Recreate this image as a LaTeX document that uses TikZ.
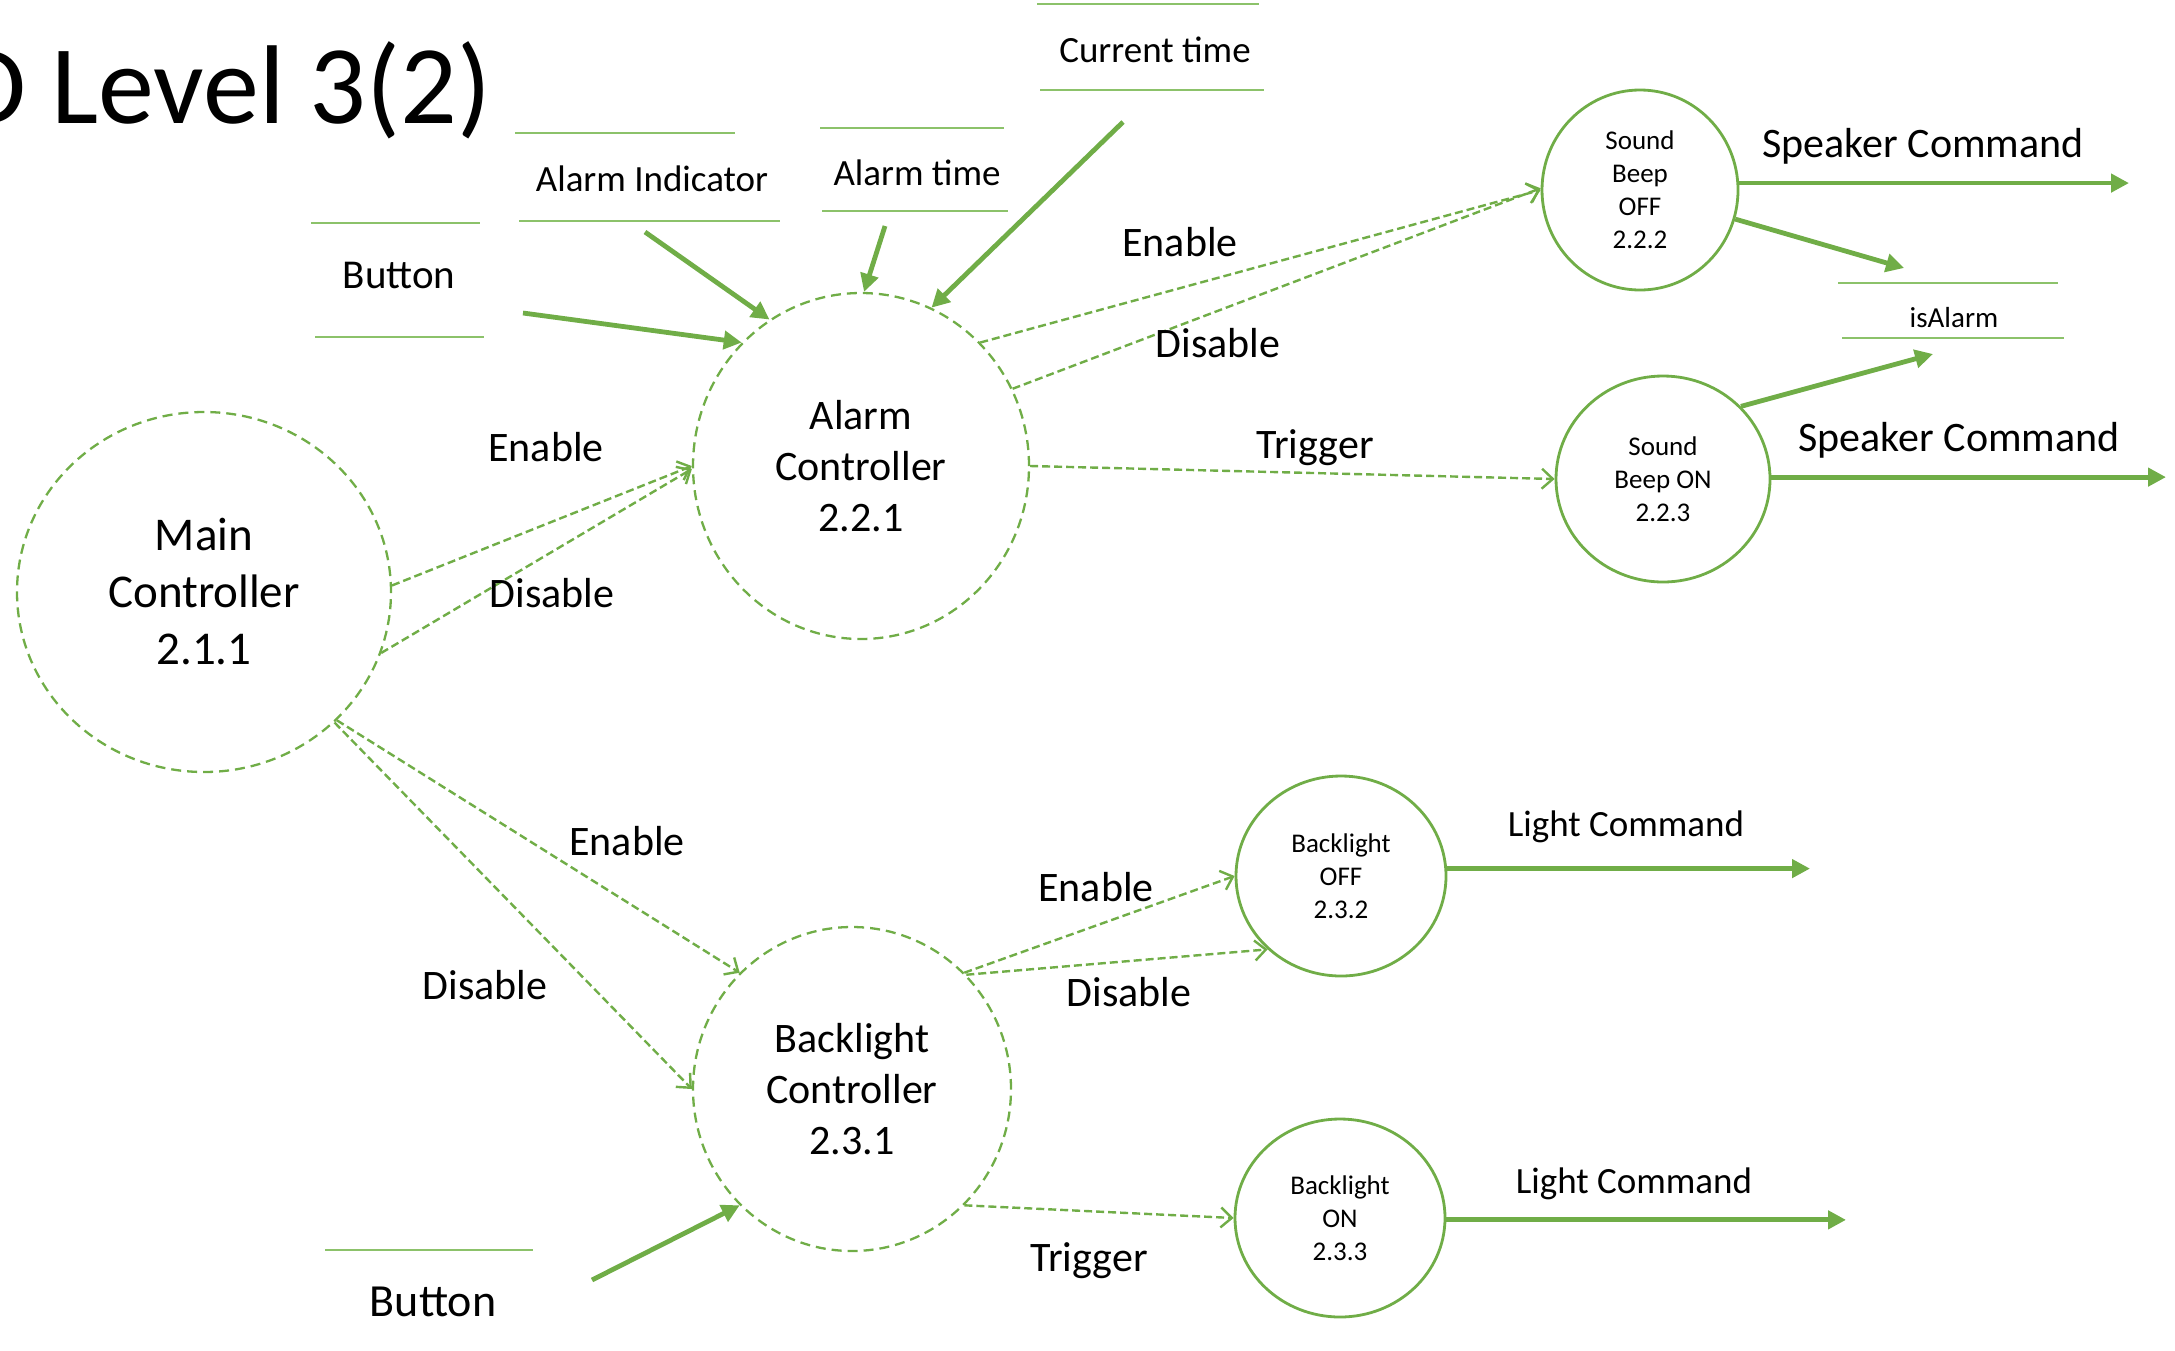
\documentclass[tikz,border=0pt]{standalone}
\usepackage{fontspec}
\setmainfont{Carlito}
\usetikzlibrary{shapes.geometric,arrows.meta}
\definecolor{gr}{HTML}{70AD47}
\definecolor{grl}{HTML}{8CC26A}
\newcommand{\fsz}[2]{\fontsize{#1}{#2}\selectfont}
\begin{document}
\begin{tikzpicture}[x=1pt,y=-1pt,
 proc/.style={ellipse, draw=gr, line width=2.8pt, inner sep=0pt, align=center, text=black},
 dproc/.style={ellipse, draw=gr, line width=2.3pt, dash pattern=on 10pt off 6pt, inner sep=0pt, align=center},
 flow/.style={draw=gr, line width=4.8pt, -{Triangle[length=18pt,width=18pt]}},
 ctrl/.style={draw=gr, line width=2.4pt, dash pattern=on 8pt off 4pt, -{Straight Barb[length=11pt,width=20pt]}},
 lbl/.style={font=\fsz{42}{50}, inner sep=0pt},
 store/.style={font=\fsz{37}{44}, inner sep=0pt},
 sline/.style={draw=grl, line width=2.2pt}
]
\useasboundingbox (0,0) rectangle (2175,1350);
\clip (0,0) rectangle (2175,1350);

% title
\node[anchor=base west, font=\fsz{112}{130}, inner sep=0pt] (title) at (-43,123) {D Level 3(2)};

% processes
\node[dproc, minimum width=374pt, minimum height=360pt, font=\fsz{47}{57}] (main) at (204,592) {Main\\Controller\\2.1.1};
\node[dproc, minimum width=336pt, minimum height=346pt, font=\fsz{42}{51}] (alarm) at (861,466) {Alarm\\Controller\\2.2.1};
\node[dproc, minimum width=318pt, minimum height=324pt, font=\fsz{42}{51}] (blc) at (852,1089) {Backlight\\Controller\\2.3.1};
\node[proc, minimum width=196pt, minimum height=200pt, font=\fsz{27}{33}] (soff) at (1640,190) {Sound\\Beep\\OFF\\2.2.2};
\node[proc, minimum width=214pt, minimum height=206pt, font=\fsz{27}{33}] (son) at (1663,479) {Sound\\Beep ON\\2.2.3};
\node[proc, minimum width=210pt, minimum height=200pt, font=\fsz{27}{33}] (boff) at (1341,876) {Backlight\\OFF\\2.3.2};
\node[proc, minimum width=210pt, minimum height=198pt, font=\fsz{27}{33}] (bon) at (1340,1218) {Backlight\\ON\\2.3.3};

% data stores
\node[store] (ct) at (1155,50) {Current time};
\draw[sline] (1037,4) -- (1259,4);
\draw[sline] (1040,90) -- (1264,90);
\node[store] (at) at (917,173) {Alarm time};
\draw[sline] (820,128) -- (1004,128);
\draw[sline] (822,211) -- (1008,211);
\node[store] (ai) at (652,179) {Alarm Indicator};
\draw[sline] (515,133) -- (735,133);
\draw[sline] (519,221) -- (780,221);
\node[store, font=\fsz{41}{48}] (btn1) at (399,275) {Button};
\draw[sline] (311,223) -- (480,223);
\draw[sline] (315,337) -- (484,337);
\node[store, font=\fsz{29}{35}] (isal) at (1954,318) {isAlarm};
\draw[sline] (1838,283) -- (2058,283);
\draw[sline] (1842,338) -- (2064,338);
\node[store, font=\fsz{46}{54}] (btn2) at (433,1302) {Button};
\draw[sline] (325,1250) -- (533,1250);

% free ends
\coordinate (btn1s) at (523,313);
\coordinate (ais) at (645,232);
\coordinate (ats) at (885,226);
\coordinate (cts) at (1123,122);
\coordinate (spk1) at (2129,183);
\coordinate (spk2) at (2166,477);
\coordinate (isa1) at (1904,268);
\coordinate (isa2) at (1933,354);
\coordinate (lc1) at (1810,868);
\coordinate (lc2) at (1846,1221);
\coordinate (btn2s) at (592,1280);

% solid flows
\draw[flow] (btn1s) -- (alarm.134);
\draw[flow] (ais) -- (alarm.122);
\draw[flow] (ats) -- (alarm.89);
\draw[flow] (cts) -- (alarm.66);
\draw[flow] (soff.4) -- (soff.4 -| spk1);
\draw[flow] (soff.-17) -- (isa1);
\draw[flow] (son.43) -- (isa2);
\draw[flow] (son.1) -- (son.1 -| spk2);
\draw[flow] (boff.4.5) -- (boff.4.5 -| lc1);
\draw[flow] (bon.-1) -- (bon.-1 -| lc2);
\draw[flow] (btn2s) -- (blc.226);

% control flows
\draw[ctrl] (main.2) -- (alarm.180);
\draw[ctrl] (main.-19) -- (alarm.181);
\draw[ctrl] (main.-44) -- (blc.134);
\draw[ctrl] (main.-45) -- (blc.180);
\draw[ctrl] (alarm.46) -- (soff.180);
\draw[ctrl] (alarm.27) -- (soff.179);
\draw[ctrl] (alarm.0) -- (son.180);
\draw[ctrl] (blc.46) -- (boff.180);
\draw[ctrl] (blc.45) -- (boff.225);
\draw[ctrl] (blc.-46) -- (bon.180);

% labels
\node[lbl] (l1) at (546,447) {Enable};
\node[lbl] (l2) at (552,593) {Disable};
\node[lbl] (l3) at (627,841) {Enable};
\node[lbl] (l4) at (485,985) {Disable};
\node[lbl] (l5) at (1180,242) {Enable};
\node[lbl] (l6) at (1218,343) {Disable};
\node[lbl] (l7) at (1315,448) {Trigger};
\node[lbl] (l8) at (1096,887) {Enable};
\node[lbl] (l9) at (1129,992) {Disable};
\node[lbl] (l10) at (1089,1261) {Trigger};
\node[lbl] (s1) at (1923,146) {Speaker Command};
\node[lbl] (s2) at (1959,440) {Speaker Command};
\node[store] (lt1) at (1626,827) {Light Command};
\node[store] (lt2) at (1634,1184) {Light Command};
\end{tikzpicture}
\end{document}
